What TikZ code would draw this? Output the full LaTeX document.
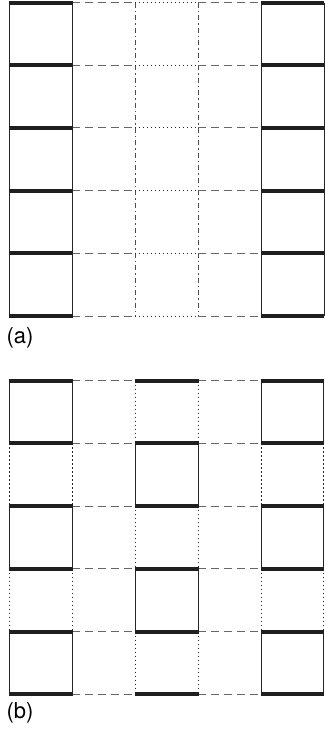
\documentclass[tikz,border=0pt]{standalone}
\usepackage{fontspec}
\setmainfont{TeX Gyre Heros}
\begin{document}
\begin{tikzpicture}[x=1pt, y=-1pt,
		bar/.style={line width=4pt, black!88},
		wall/.style={line width=1pt, black!85},
		dashlink/.style={line width=1pt, black!60, dash pattern=on 8pt off 5pt},
		dotlink/.style={line width=1pt, black!85, dash pattern=on 1.3pt off 2.7pt},
		dashdotlink/.style={line width=1pt, black!70, dash pattern=on 5pt off 3pt on 1.5pt off 3pt},
		lab/.style={font=\fontsize{22}{26}\selectfont, inner sep=0pt}]
		\useasboundingbox (0,0) rectangle (324,731);
		
		% panel (a)
		\foreach \x in {9,72,261,324.5}
			\draw[wall] (\x,2.5) -- (\x,316);
		\foreach \x in {135,198}
			\draw[dashdotlink] (\x,2.5) -- (\x,316);
		\foreach \i in {0,...,5} {
			\pgfmathsetmacro\y{2.5+62.7*\i}
			\draw[dashlink] (72,\y) -- (135,\y);
			\draw[dotlink] (135,\y) -- (198,\y);
			\draw[dashlink] (198,\y) -- (261,\y);
			\draw[bar] (8.5,\y) -- (72.5,\y);
			\draw[bar] (260.5,\y) -- (324,\y);
		}
		\node[lab] (laba) at (20,338) {(a)};
		
		% panel (b)
		\foreach \i in {0,...,4} {
			\pgfmathsetmacro\ya{380.7+62.7*\i}
			\pgfmathsetmacro\yb{380.7+62.7*(\i+1)}
			\ifodd\i
				\foreach \x in {9,72,261,323.5}
					\draw[dotlink] (\x,\ya) -- (\x,\yb);
				\foreach \x in {135,198}
					\draw[wall] (\x,\ya) -- (\x,\yb);
			\else
				\foreach \x in {9,72,261,323.5}
					\draw[wall] (\x,\ya) -- (\x,\yb);
				\foreach \x in {135,198}
					\draw[dotlink] (\x,\ya) -- (\x,\yb);
			\fi
		}
		\foreach \i in {0,...,5} {
			\pgfmathsetmacro\y{380.7+62.7*\i}
			\draw[dashlink] (72,\y) -- (135,\y);
			\draw[dashlink] (198,\y) -- (261,\y);
			\draw[bar] (8.5,\y) -- (72.5,\y);
			\draw[bar] (134.5,\y) -- (198.5,\y);
			\draw[bar] (260.5,\y) -- (324,\y);
		}
		\node[lab] (labb) at (20,713) {(b)};
	\end{tikzpicture}
\end{document}
